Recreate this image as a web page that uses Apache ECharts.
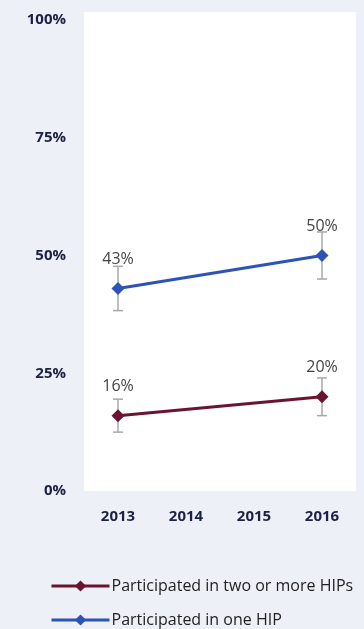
<!DOCTYPE html>
<html>
<head>
<meta charset="utf-8">
<script src="https://cdn.jsdelivr.net/npm/echarts@6/dist/echarts.min.js"></script>
<style>
html,body{margin:0;padding:0;background:#eef0f8;}
#chart{width:364px;height:629px;}
</style>
</head>
<body>
<div id="chart"></div>
<script>
const years = ['2013', '2014', '2015', '2016'];
const yTicks = [0, 25, 50, 75, 100];
const oneHip = [43, null, null, 50];
const oneHipLow = [38.3, null, null, 45];
const oneHipHigh = [47.7, null, null, 55];
const twoPlusHip = [16, null, null, 20];
const twoPlusLow = [12.5, null, null, 16];
const twoPlusHigh = [19.5, null, null, 24];

const blue = '#2d52b8';
const maroon = '#6a1430';

function errorSeries(low, high) {
  const data = [];
  years.forEach((y, i) => { if (low[i] != null) data.push([i, low[i], high[i]]); });
  return {
    type: 'custom',
    silent: true,
    z: 1,
    renderItem: function (params, api) {
      const lo = api.coord([api.value(0), api.value(1)]);
      const hi = api.coord([api.value(0), api.value(2)]);
      const w = 5;
      const style = { stroke: '#a8a8a8', lineWidth: 1.5 };
      return {
        type: 'group',
        children: [
          { type: 'line', shape: { x1: lo[0], y1: lo[1], x2: hi[0], y2: hi[1] }, style },
          { type: 'line', shape: { x1: lo[0] - w, y1: lo[1], x2: lo[0] + w, y2: lo[1] }, style },
          { type: 'line', shape: { x1: hi[0] - w, y1: hi[1], x2: hi[0] + w, y2: hi[1] }, style }
        ]
      };
    },
    data: data
  };
}

function lineSeries(name, values, color) {
  return {
    name: name,
    type: 'line',
    z: 3,
    connectNulls: true,
    data: values,
    symbol: 'diamond',
    symbolSize: 13,
    lineStyle: { color: color, width: 3 },
    itemStyle: { color: color },
    label: {
      show: true,
      position: 'top',
      distance: 15,
      formatter: p => p.value + '%',
      color: '#444',
      fontSize: 16,
      fontFamily: 'Open Sans'
    }
  };
}

const chart = echarts.init(document.getElementById('chart'));
chart.setOption({
  animation: false,
  backgroundColor: '#eef0f8',
  grid: {
    left: 84, right: 8, top: 12, bottom: 138,
    show: true, backgroundColor: '#ffffff', borderWidth: 0
  },
  xAxis: {
    type: 'category',
    data: years,
    boundaryGap: true,
    axisLine: { show: false },
    axisTick: { show: false },
    axisLabel: {
      color: '#1b2142', fontWeight: 'bold', fontSize: 15,
      fontFamily: 'Open Sans', margin: 18
    }
  },
  yAxis: {
    type: 'value',
    min: yTicks[0],
    max: 101.7,
    interval: 25,
    splitLine: { show: false },
    axisLine: { show: false },
    axisTick: { show: false },
    axisLabel: {
      color: '#1b2142', fontWeight: 'bold', fontSize: 15,
      fontFamily: 'Open Sans', margin: 18,
      formatter: v => (yTicks.indexOf(v) >= 0 ? v + '%' : '')
    }
  },
  legend: {
    orient: 'vertical',
    left: 50,
    top: 578,
    padding: 0,
    itemWidth: 58,
    itemHeight: 14,
    itemGap: 18,
    lineStyle: { width: 3 },
    data: ['Participated in two or more HIPs', 'Participated in one HIP'],
    textStyle: { color: '#222', fontSize: 16, fontFamily: 'Open Sans', padding: [0, 0, 0, -3] }
  },
  series: [
    errorSeries(oneHipLow, oneHipHigh),
    errorSeries(twoPlusLow, twoPlusHigh),
    lineSeries('Participated in two or more HIPs', twoPlusHip, maroon),
    lineSeries('Participated in one HIP', oneHip, blue)
  ]
});
</script>
</body>
</html>
